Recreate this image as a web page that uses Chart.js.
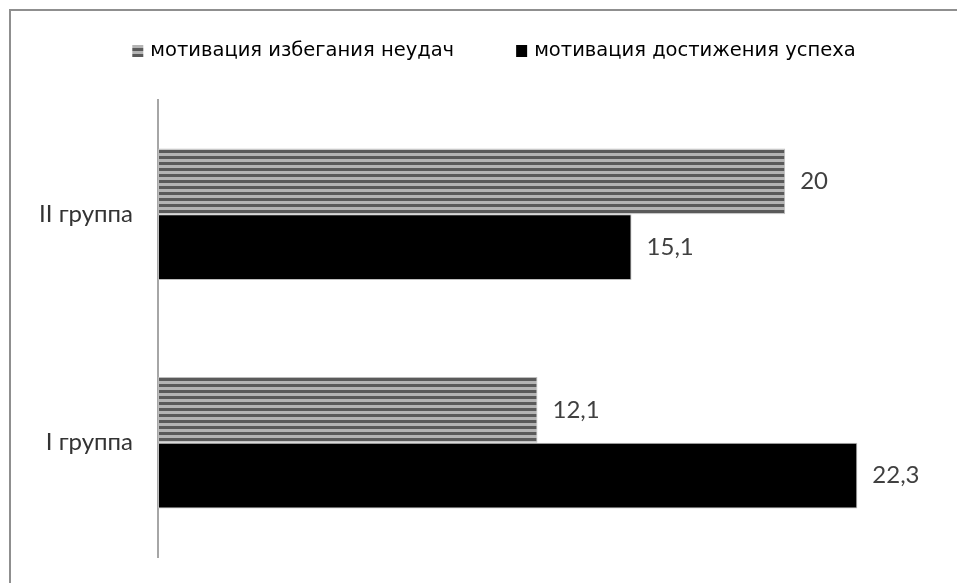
<!DOCTYPE html>
<html>
<head>
<meta charset="utf-8">
<script src="https://cdn.jsdelivr.net/npm/chart.js@4.4.0/dist/chart.umd.min.js"></script>
<style>
    html, body { margin: 0; padding: 0; background: #fff; overflow: hidden; }
    #wrap { position: relative; width: 957px; height: 583px; }
    #frame {
        position: absolute; left: 9px; top: 9px; width: 1000px; height: 1000px;
        border: 2px solid #8f8f8f; box-sizing: border-box;
    }
    canvas { position: absolute; left: 0; top: 0; }
</style>
</head>
<body>
<div id="wrap">
    <div id="frame"></div>
    <canvas id="chart" width="957" height="583"></canvas>
</div>
<script>
// Data
const categories = ['II группа', 'I группа'];
const seriesNames = ['мотивация избегания неудач', 'мотивация достижения успеха'];
const avoidFailure = [20, 12.1];
const achieveSuccess = [15.1, 22.3];

// Horizontal striped fill for the first series
function makeStripes() {
    const c = document.createElement('canvas');
    c.width = 6;
    c.height = 6;
    const g = c.getContext('2d');
    g.fillStyle = '#b4b4b4';
    g.fillRect(0, 0, 6, 6);
    g.fillStyle = '#5a5a5a';
    g.fillRect(0, 0, 6, 3);
    return g.createPattern(c, 'repeat');
}

// Values written just past the end of each bar
const valueLabels = {
    id: 'valueLabels',
    afterDatasetsDraw(chart) {
        const ctx = chart.ctx;
        ctx.save();
        ctx.font = '24px Lato';
        ctx.fillStyle = '#404040';
        ctx.textAlign = 'left';
        ctx.textBaseline = 'middle';
        chart.data.datasets.forEach((ds, i) => {
            chart.getDatasetMeta(i).data.forEach((bar, j) => {
                const text = String(ds.data[j]).replace('.', ',');
                ctx.fillText(text, bar.x + 15, bar.y);
            });
        });
        ctx.restore();
    }
};

// Legend row at the top, centred on the frame (which runs past the right edge)
const topLegend = {
    id: 'topLegend',
    afterDraw(chart) {
        const ctx = chart.ctx;
        const box = 11, boxGap = 7, itemGap = 62, y = 51, center = 494;
        ctx.save();
        ctx.font = '19.5px "DejaVu Sans"';
        ctx.textBaseline = 'middle';
        ctx.textAlign = 'left';
        const items = chart.data.datasets.map(ds => ({
            text: ds.label,
            fill: ds.backgroundColor,
            w: box + boxGap + ctx.measureText(ds.label).width
        }));
        const total = items.reduce((s, it) => s + it.w, 0) + itemGap * (items.length - 1);
        let x = center - total / 2;
        items.forEach(it => {
            ctx.fillStyle = it.fill;
            ctx.fillRect(x, y - 6, box, 12);
            ctx.fillStyle = '#000000';
            ctx.fillText(it.text, x + box + boxGap, y);
            x += it.w + itemGap;
        });
        ctx.restore();
    }
};

const stripes = makeStripes();

new Chart(document.getElementById('chart').getContext('2d'), {
    type: 'bar',
    data: {
        labels: categories,
        datasets: [
            {
                label: seriesNames[0],
                data: avoidFailure,
                backgroundColor: stripes,
                borderColor: '#bdbdbd',
                borderWidth: 1,
                borderSkipped: false
            },
            {
                label: seriesNames[1],
                data: achieveSuccess,
                backgroundColor: '#000000',
                borderColor: '#bdbdbd',
                borderWidth: 1,
                borderSkipped: false
            }
        ]
    },
    options: {
        indexAxis: 'y',
        responsive: false,
        animation: false,
        datasets: {
            bar: {
                categoryPercentage: 0.575,
                barPercentage: 1
            }
        },
        layout: {
            padding: { left: 0, right: 15, top: 100, bottom: 26 }
        },
        scales: {
            x: {
                display: false,
                min: 0,
                max: 25
            },
            y: {
                afterFit(scale) {
                    // fixed axis position; labels never overflow the plot vertically
                    scale.width = 158;
                    scale.paddingTop = 0;
                    scale.paddingBottom = 0;
                },
                grid: { display: false, drawTicks: false },
                border: { display: true, color: '#a6a6a6', width: 2 },
                ticks: {
                    padding: 25,
                    color: '#333333',
                    font: { family: 'Lato', size: 24 }
                }
            }
        },
        plugins: {
            legend: { display: false },
            tooltip: { enabled: false }
        }
    },
    plugins: [valueLabels, topLegend]
});
</script>
</body>
</html>
